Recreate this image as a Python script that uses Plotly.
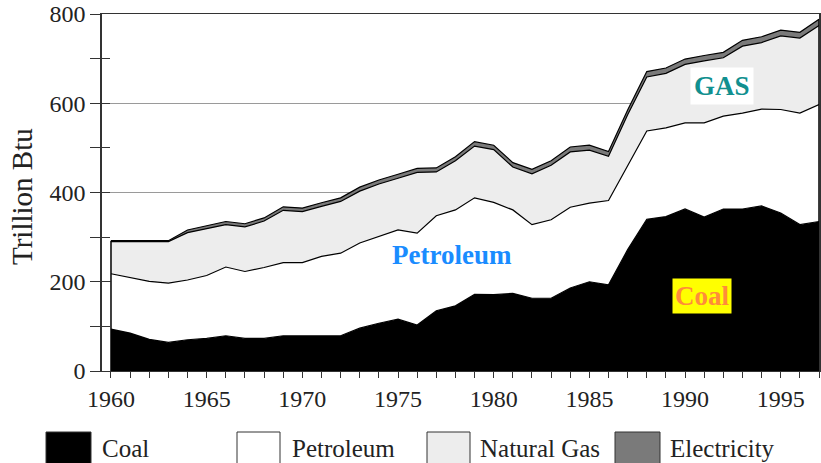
import plotly.graph_objects as go

years = list(range(1960, 1998))
coal = [94, 85, 71, 64, 70, 73, 79, 73, 73, 79, 79, 79, 79, 96, 107, 116, 103, 135, 146, 172,
        171, 174, 163, 163, 186, 200, 193, 272, 340, 346, 363, 345, 363, 363, 370, 354, 328, 335]
petroleum = [124, 124, 130, 133, 134, 141, 154, 150, 159, 164, 164, 178, 185, 191, 194, 200, 206, 213, 215, 216,
             207, 187, 165, 176, 181, 176, 189, 187, 198, 199, 193, 211, 208, 215, 217, 232, 250, 262]
natural_gas = [72, 81, 90, 93, 106, 105, 95, 100, 104, 117, 114, 112, 116, 116, 118, 116, 136, 98, 110, 116,
               118, 96, 114, 122, 124, 119, 99, 115, 121, 122, 131, 139, 131, 150, 149, 165, 168, 177]
electricity = [2, 2, 2, 2, 6, 7, 7, 7, 7, 8, 8, 8, 8, 9, 9, 9, 9, 9, 9, 10,
               10, 10, 10, 10, 11, 11, 11, 11, 12, 12, 12, 12, 12, 13, 13, 13, 13, 14]

series_names = ["Coal", "Petroleum", "Natural Gas", "Electricity"]
fill_colors = ["#000000", "#ffffff", "#ededed", "#7a7a7a"]
y_ticks = [0, 200, 400, 600, 800]

FONT = "Liberation Serif"
W, H = 821, 463
L, R, T, B = 102, 2, 14, 92
PW, PH = W - L - R, H - T - B


def px(x):
    return (x - L) / PW


def py(y):
    return (H - B - y) / PH


fig = go.Figure()
for name, vals, col in zip(series_names, [coal, petroleum, natural_gas, electricity], fill_colors):
    fig.add_trace(go.Scatter(
        x=years, y=vals, name=name, stackgroup="one", mode="lines",
        line=dict(color="#000000", width=1.2), fillcolor=col, showlegend=False,
        hoverinfo="x+y+name",
    ))

totals = [a + b + c + d for a, b, c, d in zip(coal, petroleum, natural_gas, electricity)]
# left and right edge outlines of the stacked area
fig.add_trace(go.Scatter(x=[years[0], years[0]], y=[0, totals[0]], mode="lines",
                         line=dict(color="#000000", width=1.5), showlegend=False, hoverinfo="skip"))
fig.add_trace(go.Scatter(x=[years[-1], years[-1]], y=[0, totals[-1]], mode="lines",
                         line=dict(color="#000000", width=1.5), showlegend=False, hoverinfo="skip"))
# invisible trace for inner ticks on the y axis
fig.add_trace(go.Scatter(x=[years[0]], y=[0], yaxis="y2", mode="markers",
                         marker=dict(opacity=0), showlegend=False, hoverinfo="skip"))

fig.update_layout(
    width=W, height=H,
    margin=dict(l=L, r=R, t=T, b=B, autoexpand=False),
    paper_bgcolor="white", plot_bgcolor="white",
    font=dict(family=FONT, size=24, color="#222222"),
    xaxis=dict(
        range=[1959.53, 1997.0], tickmode="linear", tick0=1960, dtick=5,
        ticks="outside", ticklen=6, tickcolor="#333333", tickwidth=1,
        minor=dict(dtick=1, tick0=1960, ticks="outside", ticklen=6, tickcolor="#333333", showgrid=False),
        showline=True, linecolor="#333333", linewidth=1, mirror=True,
        showgrid=False, zeroline=False, automargin=False,
        tickfont=dict(family=FONT, size=24, color="#222222"),
    ),
    yaxis=dict(
        range=[0, 800], tickvals=y_ticks, ticktext=[str(v) for v in y_ticks],
        ticks="outside", ticklen=10, tickcolor="#333333",
        minor=dict(dtick=100, ticks="outside", ticklen=10, tickcolor="#333333", showgrid=False),
        showline=True, linecolor="#333333", linewidth=1.5, mirror=True,
        showgrid=True, gridcolor="#9a9a9a", gridwidth=1, zeroline=False, automargin=False,
        tickfont=dict(family=FONT, size=24, color="#222222"),
        layer="below traces",
    ),
    yaxis2=dict(
        range=[0, 800], overlaying="y", side="left", anchor="x",
        tickmode="linear", tick0=0, dtick=100, ticks="inside", ticklen=8, tickcolor="#333333",
        showticklabels=False, showgrid=False, showline=False, zeroline=False, automargin=False,
    ),
)

# y-axis title
fig.add_annotation(text="Trillion Btu", xref="paper", yref="paper", x=px(22), y=py(197),
                   xanchor="center", yanchor="middle",
                   textangle=-90, showarrow=False, font=dict(family=FONT, size=29, color="#222222"))

# in-chart labels
fig.add_annotation(text="<b>GAS</b>", xref="paper", yref="paper", x=px(722), y=py(86),
                   xanchor="center", yanchor="middle",
                   showarrow=False, bgcolor="#ffffff", borderpad=3,
                   font=dict(family=FONT, size=27, color="#11908f"))
fig.add_annotation(text="<b>Petroleum</b>", xref="paper", yref="paper", x=px(452), y=py(255),
                   xanchor="center", yanchor="middle",
                   showarrow=False, font=dict(family=FONT, size=27, color="#1a8cff"))
fig.add_annotation(text="<b>Coal</b>", xref="paper", yref="paper", x=px(702), y=py(296),
                   xanchor="center", yanchor="middle",
                   showarrow=False, bgcolor="#ffff00", borderpad=2,
                   font=dict(family=FONT, size=27, color="#ff8c3a"))

# manual legend
legend_boxes = [(46, 91), (237, 280), (427, 470), (615, 660)]
legend_text_x = [100, 290, 478, 668]
for (x0, x1), tx, name, col in zip(legend_boxes, legend_text_x, series_names, fill_colors):
    fig.add_shape(type="rect", xref="paper", yref="paper",
                  x0=px(x0), x1=px(x1), y0=py(475), y1=py(432),
                  fillcolor=col, line=dict(color="#333333", width=1))
    fig.add_annotation(text=name, xref="paper", yref="paper", x=px(tx), y=py(448),
                       xanchor="left", yanchor="middle", showarrow=False,
                       font=dict(family=FONT, size=25, color="#222222"))

fig.write_html(
    "out.html",
    config={"displayModeBar": False},
    post_script="document.body.style.margin='0';document.body.style.padding='0';"
                "document.body.style.overflow='hidden';",
)
